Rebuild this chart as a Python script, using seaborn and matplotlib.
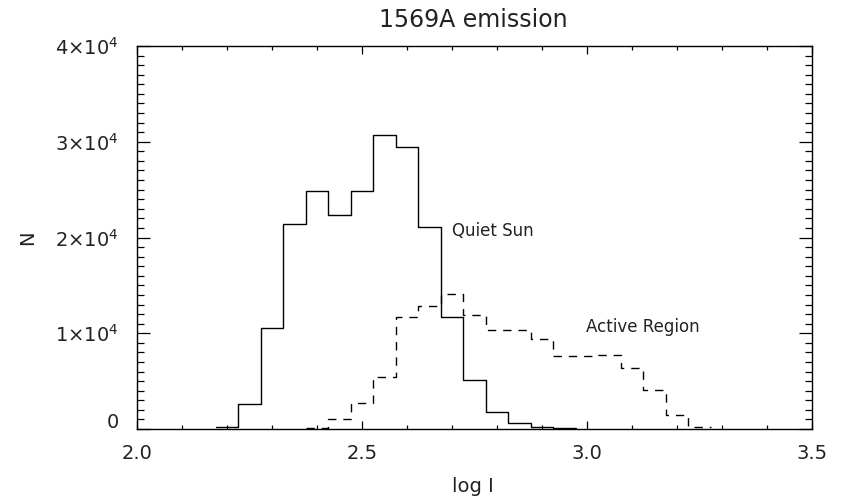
import matplotlib
matplotlib.use("Agg")
import matplotlib.pyplot as plt
import matplotlib.transforms as mtransforms
import numpy as np
import seaborn as sns

sns.set_style("ticks")
plt.rcParams["font.family"] = ["DejaVu Sans"]
plt.rcParams["mathtext.fontset"] = "dejavusans"

# bin centres (log I) and counts, bin width 0.05
quiet_log_i = [2.20, 2.25, 2.30, 2.35, 2.40, 2.45, 2.50, 2.55, 2.60, 2.65,
               2.70, 2.75, 2.80, 2.85, 2.90, 2.95]
quiet_n = [230, 2600, 10600, 21400, 24900, 22300, 24900, 30700, 29400, 21100,
           11700, 5100, 1800, 650, 250, 100]

active_log_i = [2.40, 2.45, 2.50, 2.55, 2.60, 2.65, 2.70, 2.75, 2.80, 2.85,
                2.90, 2.95, 3.00, 3.05, 3.10, 3.15, 3.20, 3.25]
active_n = [100, 1000, 2700, 5400, 11700, 12800, 14100, 11900, 10300, 10300,
            9400, 7600, 7600, 7700, 6400, 4100, 1500, 250]

bin_width = 0.05
y_ticks = [0, 10000, 20000, 30000, 40000]
y_tick_labels = ["0", r"$1{\times}10^4$", r"$2{\times}10^4$", r"$3{\times}10^4$", r"$4{\times}10^4$"]
x_ticks = [2.0, 2.5, 3.0, 3.5]


def edges(centres):
    c = np.asarray(centres)
    return list(np.append(c - bin_width / 2, c[-1] + bin_width / 2))


fig = plt.figure(figsize=(8.45, 5.04), dpi=100)
ax = fig.add_axes([137 / 845, 1 - 429 / 504, 675 / 845, 383 / 504])

sns.histplot(x=quiet_log_i, weights=quiet_n, bins=edges(quiet_log_i),
             element="step", fill=False, color="black", linewidth=1.0, ax=ax)
sns.histplot(x=active_log_i, weights=active_n, bins=edges(active_log_i),
             element="step", fill=False, color="black", linewidth=1.0,
             linestyle=(0, (6, 5)), ax=ax)

ax.set_xlim(2.0, 3.5)
ax.set_ylim(0, 40000)
ax.set_xticks(x_ticks)
ax.set_xticklabels([f"{t:.1f}" for t in x_ticks])
ax.set_xticks(np.arange(2.0, 3.5, 0.1), minor=True)
ax.set_yticks(y_ticks)
ax.set_yticklabels(y_tick_labels)
ax.set_yticks(np.arange(0, 40000, 1000), minor=True)
ax.set_xlabel("")
ax.set_ylabel("")

text_color = "#222222"
ax.tick_params(axis="both", which="both", direction="in", top=True, right=True,
               color="black", width=0.9, labelcolor=text_color, labelsize=14)
ax.tick_params(axis="x", which="major", length=5.5, pad=11)
ax.tick_params(axis="x", which="minor", length=3.2)
ax.tick_params(axis="y", which="major", length=9.5, pad=13)
ax.tick_params(axis="y", which="minor", length=5)
for s in ax.spines.values():
    s.set_visible(True)
    s.set_color("black")
    s.set_linewidth(1.0)

# IDL draws the "0" label a little above the axis
zero_label = ax.get_yticklabels()[0]
zero_label.set_transform(zero_label.get_transform()
                         + mtransforms.ScaledTranslation(0, 0.09, fig.dpi_scale_trans))

ax.text(2.699, 20630, "Quiet Sun", ha="left", va="center", fontsize=12, color=text_color)
ax.text(2.998, 10620, "Active Region", ha="left", va="center", fontsize=12, color=text_color)

fig.text(473 / 845, 1 - 20 / 504, "1569A emission", ha="center", va="center",
         fontsize=17, color=text_color)
fig.text(473 / 845, 1 - 487 / 504, "log I", ha="center", va="center",
         fontsize=14, color=text_color)
fig.text(28 / 845, 1 - 238 / 504, "N", ha="center", va="center", rotation=90,
         fontsize=14, color=text_color)

fig.savefig("out.png", dpi=100, facecolor="white")
